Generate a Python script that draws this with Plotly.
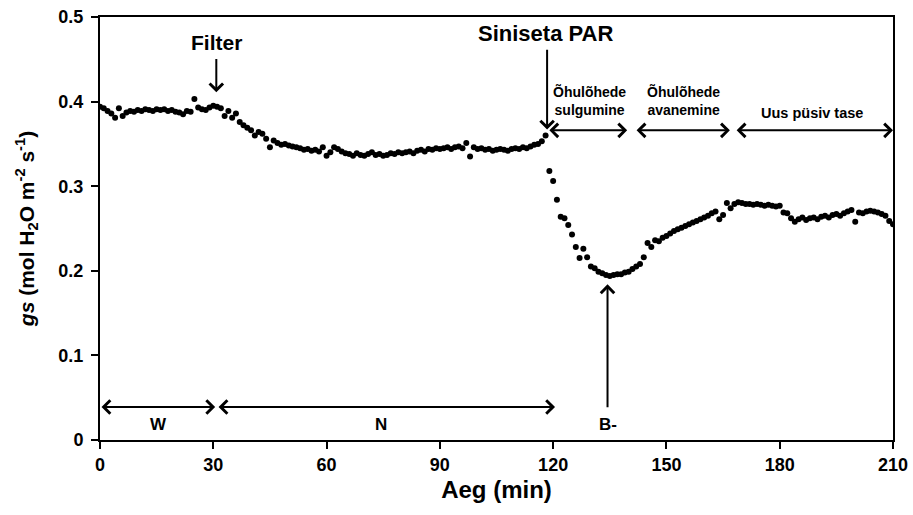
import plotly.graph_objects as go

# --- data ---
t_before = list(range(0, 119))
gs_before = [
    0.394, 0.392, 0.389, 0.386, 0.381, 0.392, 0.383, 0.387, 0.389, 0.388,
    0.390, 0.389, 0.391, 0.390, 0.389, 0.391, 0.390, 0.391, 0.389, 0.390,
    0.388, 0.387, 0.385, 0.389, 0.388, 0.403, 0.393, 0.391, 0.390, 0.393,
    0.395, 0.394, 0.392, 0.383, 0.389, 0.381, 0.386, 0.376, 0.372, 0.369,
    0.366, 0.360, 0.364, 0.362, 0.356, 0.346, 0.354, 0.351, 0.349, 0.350,
    0.348, 0.347, 0.346, 0.345, 0.343, 0.344, 0.342, 0.343, 0.341, 0.346,
    0.336, 0.340, 0.346, 0.344, 0.341, 0.339, 0.338, 0.336, 0.339, 0.337,
    0.336, 0.338, 0.340, 0.337, 0.338, 0.336, 0.337, 0.339, 0.338, 0.340,
    0.339, 0.340, 0.341, 0.339, 0.342, 0.343, 0.341, 0.344, 0.343, 0.345,
    0.344, 0.345, 0.346, 0.344, 0.346, 0.347, 0.345, 0.351, 0.335, 0.346,
    0.344, 0.345, 0.343, 0.344, 0.342, 0.343, 0.344, 0.343, 0.342, 0.344,
    0.345, 0.344, 0.346, 0.345, 0.347, 0.349, 0.350, 0.353, 0.360,
]
t_after = list(range(119, 211))
gs_after = [
    0.318, 0.306, 0.284, 0.264, 0.262, 0.254, 0.243, 0.228, 0.215, 0.226,
    0.216, 0.205, 0.203, 0.199, 0.197, 0.195, 0.194, 0.195, 0.196, 0.196,
    0.198, 0.199, 0.202, 0.205, 0.208, 0.216, 0.233, 0.228, 0.236, 0.235,
    0.239, 0.241, 0.244, 0.247, 0.249, 0.251, 0.253, 0.255, 0.257, 0.259,
    0.261, 0.263, 0.265, 0.268, 0.270, 0.261, 0.266, 0.280, 0.274, 0.279,
    0.281, 0.280, 0.279, 0.279, 0.278, 0.279, 0.278, 0.277, 0.278, 0.277,
    0.276, 0.277, 0.269, 0.268, 0.262, 0.258, 0.261, 0.263, 0.260, 0.262,
    0.263, 0.261, 0.264, 0.265, 0.263, 0.266, 0.267, 0.265, 0.268, 0.270,
    0.272, 0.258, 0.269, 0.268, 0.270, 0.271, 0.270, 0.269, 0.267, 0.265,
    0.259, 0.255,
]
x_ticks = [0, 30, 60, 90, 120, 150, 180, 210]
y_ticks = [0, 0.1, 0.2, 0.3, 0.4, 0.5]
y_tick_labels = ["0", "0.1", "0.2", "0.3", "0.4", "0.5"]

FONT = "Liberation Sans, Arial, sans-serif"

fig = go.Figure()
fig.add_trace(go.Scatter(
    x=t_before + t_after, y=gs_before + gs_after, mode="markers",
    marker=dict(color="black", size=6), showlegend=False,
))

ann = []

def arrow(x, y, ax, ay, both=False, head=4, width=2):
    ann.append(dict(x=x, y=y, ax=ax, ay=ay, xref="x", yref="y", axref="x", ayref="y",
                    text="", showarrow=True, arrowhead=head, arrowsize=1.3,
                    arrowwidth=width, arrowcolor="black",
                    arrowside="end+start" if both else "end", startarrowhead=head,
                    startarrowsize=1.3, standoff=0, startstandoff=0))

def label(x, y, text, size):
    ann.append(dict(x=x, y=y, xref="x", yref="y", text=text, showarrow=False,
                    font=dict(family=FONT, size=size, color="black", weight="bold")))

# Filter
label(30.8, 0.470, "Filter", 21)
arrow(30.8, 0.411, 30.8, 0.452)
# Siniseta PAR
label(118.0, 0.481, "Siniseta PAR", 22)
arrow(118.4, 0.367, 118.4, 0.463)
# phase arrows
arrow(139.6, 0.366, 118.6, 0.366, both=True)
arrow(166.8, 0.366, 141.7, 0.366, both=True)
arrow(210.0, 0.366, 168.2, 0.366, both=True)
label(129.5, 0.401, "Õhulõhede<br>sulgumine", 14)
label(154.6, 0.401, "Õhulõhede<br>avanemine", 14)
label(188.5, 0.387, "Uus püsiv tase", 14.5)
# W and N
arrow(30.5, 0.039, 0.0, 0.039, both=True)
arrow(120.5, 0.039, 31.0, 0.039, both=True)
label(15.5, 0.018, "W", 17)
label(74.5, 0.018, "N", 17)
# B-
arrow(134.4, 0.184, 134.4, 0.037)
label(134.4, 0.018, "B-", 17)

fig.update_layout(
    width=913, height=515,
    margin=dict(l=100, r=20, t=17, b=75),
    paper_bgcolor="white", plot_bgcolor="white",
    font=dict(family=FONT, color="black"),
    annotations=ann,
    xaxis=dict(
        range=[0, 210], tickvals=x_ticks, ticktext=[str(v) for v in x_ticks],
        automargin=False,
        showgrid=False, zeroline=False, showline=True, linecolor="black", linewidth=2,
        mirror=True, ticks="outside", ticklen=7, tickwidth=2, tickcolor="black",
        tickfont=dict(family=FONT, size=18, color="black", weight="bold"),
        title=dict(text="Aeg (min)", font=dict(family=FONT, size=24, color="black", weight="bold"),
                   standoff=8),
    ),
    yaxis=dict(
        range=[0, 0.5], tickvals=y_ticks, ticktext=y_tick_labels,
        automargin=False,
        showgrid=False, zeroline=False, showline=True, linecolor="black", linewidth=2,
        mirror=True, ticks="outside", ticklen=7, tickwidth=2, tickcolor="black",
        ticklabelstandoff=4,
        tickfont=dict(family=FONT, size=18, color="black", weight="bold"),
        title=dict(text="<i>gs</i> (mol H<sub>2</sub>O m<sup>-2</sup> s<sup>-1</sup>)",
                   font=dict(family=FONT, size=21, color="black", weight="bold"),
                   standoff=18),
    ),
)

fig.write_html("out.html")
